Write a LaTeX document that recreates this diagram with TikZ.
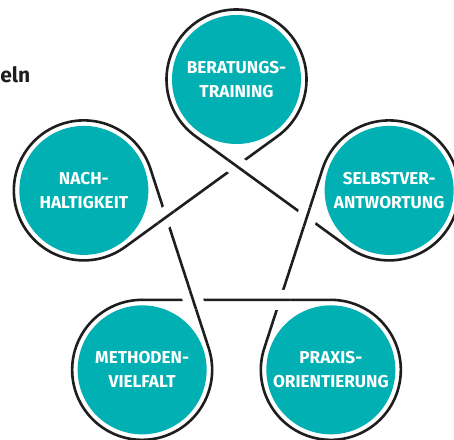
\documentclass[tikz,border=0pt]{standalone}
\usepackage{fontspec}
\setmainfont{Fira Sans}
\usetikzlibrary{calc}
\definecolor{petrol}{RGB}{0,176,178}
\definecolor{ink}{RGB}{30,30,30}

\begin{document}
\begin{tikzpicture}[x=1pt, y=1pt,
	disk/.style={circle, fill=petrol, text=white, minimum size=129pt, inner sep=0pt, align=center,
		font=\bfseries\fontsize{17.2}{24}\selectfont, execute at begin node={\rule{0pt}{17.5pt}}},
	band/.style={draw=ink, line width=2.6pt, line cap=round}]
	\useasboundingbox (0,0) rectangle (454,439);
	\clip (0,0) rectangle (454,439);
	\fill[white] (0,0) rectangle (454,439);
	\coordinate (c) at (236.5,199);

	\node[disk] (beratung) at ([shift={(90:160.5)}]c) {BERATUNGS-\\TRAINING};
	\node[disk] (selbst) at ([shift={(18:160.5)}]c) {SELBSTVER-\\ANTWORTUNG};
	\node[disk] (praxis) at ([shift={(-54:160.5)}]c) {PRAXIS-\\ORIENTIERUNG};
	\node[disk] (methoden) at ([shift={(-126:160.5)}]c) {METHODEN-\\VIELFALT};
	\node[disk] (nachhalt) at ([shift={(162:160.5)}]c) {NACH-\\HALTIGKEIT};
	\node[anchor=base east, inner sep=0pt, text=ink, font=\bfseries\fontsize{21}{21}\selectfont] (titel) at (30.5,356) {eln};

	% loop round each circle, then on to the next one
	\foreach \n/\m/\a in {beratung/selbst/90, selbst/praxis/18, praxis/methoden/-54, methoden/nachhalt/-126, nachhalt/beratung/162}
		\draw[band] ([shift={(\a-144:70)}]\n.center) arc[start angle=\a-144, end angle=\a+144, radius=70]
			-- ([shift={(\a+144:70)}]\m.center);

	% crossings: the outgoing line lies on top
	\foreach \n/\m/\a in {beratung/selbst/90, selbst/praxis/18, praxis/methoden/-54, methoden/nachhalt/-126, nachhalt/beratung/162} {
		\coordinate (v) at ([shift={(\a:74)}]c);
		\coordinate (s) at ([shift={(\a+144:70)}]\n.center);
		\coordinate (e) at ([shift={(\a+144:70)}]\m.center);
		\draw[band, line cap=butt, preaction={draw=white, line width=20pt}] ($(v)!10pt!(s)$) -- ($(v)!10pt!(e)$);
	}
\end{tikzpicture}
\end{document}
